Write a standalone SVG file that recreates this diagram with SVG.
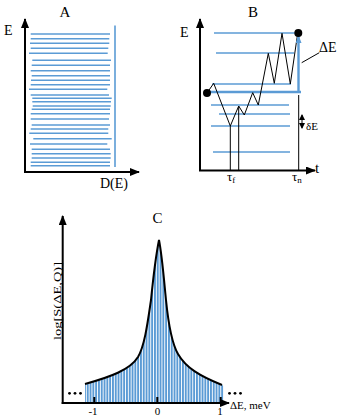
<svg xmlns="http://www.w3.org/2000/svg" width="342" height="416" viewBox="0 0 342 416">
<defs>
<marker id="ah" markerUnits="userSpaceOnUse" markerWidth="10" markerHeight="8" refX="9" refY="4" orient="auto"><path d="M0,0 L10,4 L0,8 Z" fill="#000"/></marker>
<marker id="ahs" markerUnits="userSpaceOnUse" markerWidth="6" markerHeight="6" refX="5" refY="3" orient="auto-start-reverse"><path d="M0,0 L6,3 L0,6 Z" fill="#000"/></marker>
<marker id="ahb" markerUnits="userSpaceOnUse" markerWidth="8" markerHeight="6" refX="7" refY="3" orient="auto"><path d="M0,0 L8,3 L0,6 Z" fill="#5b9bd5"/></marker>
<pattern id="stripes" patternUnits="userSpaceOnUse" width="2.8" height="10"><rect x="0" y="0" width="2.8" height="10" fill="#fff"/><rect x="0" y="0" width="1.9" height="10" fill="#5b9bd5"/></pattern>
</defs>
<style>
.ax{stroke:#000;stroke-width:2;fill:none}
.lv{stroke:#5b9bd5;stroke-width:1.6;fill:none}
.lvb{stroke:#5b9bd5;stroke-width:1.4;fill:none}
.thin{stroke:#000;stroke-width:1;fill:none}
.t{font-family:"Liberation Serif","Times New Roman",serif;fill:#000}
</style>

<g id="panelA">
<text class="t" x="65" y="17" font-size="15" text-anchor="middle">A</text>
<text class="t" x="4" y="35" font-size="14">E</text>
<text class="t" x="100" y="188" font-size="14">D(E)</text>
<g id="levelsA" class="lv">
<line x1="30.7" y1="34" x2="110" y2="34"/>
<line x1="30.7" y1="38.7" x2="109.3" y2="38.7"/>
<line x1="30" y1="43.3" x2="109.3" y2="43.3"/>
<line x1="30.7" y1="48.3" x2="108.3" y2="48.3"/>
<line x1="29" y1="53.3" x2="107.7" y2="53.3"/>
<line x1="32.3" y1="60.3" x2="111" y2="60.3"/>
<line x1="31.7" y1="65.3" x2="110" y2="65.3"/>
<line x1="30.7" y1="70.7" x2="110" y2="70.7"/>
<line x1="31.7" y1="75.7" x2="110" y2="75.7"/>
<line x1="31" y1="80.3" x2="110" y2="80.3"/>
<line x1="30.7" y1="84.7" x2="110" y2="84.7"/>
<line x1="29" y1="89.3" x2="107.3" y2="89.3"/>
<line x1="30.7" y1="95" x2="109" y2="95"/>
<line x1="32.3" y1="98.3" x2="111.7" y2="98.3"/>
<line x1="32.3" y1="101.7" x2="111" y2="101.7"/>
<line x1="32.7" y1="106" x2="110.7" y2="106"/>
<line x1="31.7" y1="109.3" x2="110" y2="109.3"/>
<line x1="30.7" y1="113.7" x2="110" y2="113.7"/>
<line x1="30.7" y1="119" x2="109" y2="119"/>
<line x1="31.7" y1="125" x2="110" y2="125"/>
<line x1="30.7" y1="129" x2="108.3" y2="129"/>
<line x1="29.3" y1="133.3" x2="108.3" y2="133.3"/>
<line x1="33.3" y1="138.7" x2="111.7" y2="138.7"/>
<line x1="30" y1="144" x2="107.3" y2="144"/>
<line x1="31.7" y1="149.3" x2="110" y2="149.3"/>
<line x1="31.7" y1="153.7" x2="110.7" y2="153.7"/>
<line x1="31.7" y1="158" x2="110.7" y2="158"/>
<line x1="30.7" y1="162.3" x2="110" y2="162.3"/>
<line x1="30.7" y1="165.7" x2="110" y2="165.7"/>
<line x1="115" y1="25.5" x2="115" y2="167"/>
</g>
<g id="axesA">
<line class="ax" x1="25" y1="172" x2="25" y2="19" marker-end="url(#ah)"/>
<line class="ax" x1="24" y1="172" x2="139" y2="172" marker-end="url(#ah)"/>
</g>
</g>

<g id="panelB">
<text class="t" x="253" y="17" font-size="15" text-anchor="middle">B</text>
<text class="t" x="180" y="37" font-size="14">E</text>
<text class="t" x="315" y="173" font-size="15">t</text>
<text class="t" x="319" y="52" font-size="14">ΔE</text>
<text class="t" x="306" y="130" font-size="11">δE</text>
<text class="t" x="227" y="181" font-size="13">τ<tspan font-size="9" dy="2">f</tspan></text>
<text class="t" x="292" y="181" font-size="13">τ<tspan font-size="9" dy="2">n</tspan></text>
<g id="levelsB" class="lvb">
<line x1="214" y1="33" x2="298" y2="33"/>
<line x1="216" y1="53" x2="294" y2="53"/>
<line x1="212" y1="84" x2="291" y2="84"/>
<line x1="206" y1="92" x2="301" y2="92" stroke-width="2.4"/>
<line x1="211" y1="105" x2="289" y2="105"/>
<line x1="219" y1="114" x2="290" y2="114"/>
<line x1="211" y1="126" x2="290" y2="126"/>
<line x1="213" y1="152" x2="290" y2="152"/>
</g>
<g id="connectorsB">
<polyline class="thin" points="207,93 213.7,83.3 230.3,126 238.7,106 244.3,115 252.7,92.7 258.3,105 268.3,53.3 274.3,83.3 282,33.3 290.3,84 297.7,33.3"/>
<line class="thin" x1="230.3" y1="126" x2="230.3" y2="170"/>
<line class="thin" x1="238.7" y1="106" x2="238.7" y2="170"/>
<line class="thin" x1="298.7" y1="95" x2="298.7" y2="170"/>
<line class="thin" x1="301.7" y1="62.7" x2="319.3" y2="52.7"/>
<line class="thin" x1="302" y1="115" x2="302" y2="128" marker-start="url(#ahs)" marker-end="url(#ahs)"/>
<line x1="298.5" y1="92" x2="298.5" y2="36" stroke="#5b9bd5" stroke-width="2.4" marker-end="url(#ahb)"/>
</g>
<circle cx="207" cy="93" r="4" fill="#000"/>
<circle cx="298.3" cy="33" r="4" fill="#000"/>
<g id="axesB">
<line class="ax" x1="200" y1="171" x2="200" y2="19" marker-end="url(#ah)"/>
<line class="ax" x1="199" y1="170.5" x2="315" y2="170.5" marker-end="url(#ah)"/>
</g>
</g>

<g id="panelC">
<text class="t" x="157.5" y="223" font-size="15" text-anchor="middle">C</text>
<text class="t" transform="translate(61,301) rotate(-90)" font-size="11" text-anchor="middle" textLength="78" lengthAdjust="spacingAndGlyphs">log[S(ΔE,Q)]</text>
<path d="M85,384 C110,377 130,370 138,357 C145,345 148,320 151,300 C153,280 156,255 159,240 C162,255 164,280 166,300 C168,320 171,342 178,354 C186,368 200,376 222,385 L224,386 L224,402 L85,402 Z" fill="url(#stripes)"/>
<path d="M85,384 C110,377 130,370 138,357 C145,345 148,320 151,300 C153,280 156,255 159,240 C162,255 164,280 166,300 C168,320 171,342 178,354 C186,368 200,376 222,385" fill="none" stroke="#000" stroke-width="2"/>
<g id="axesC">
<line class="ax" x1="62.7" y1="404" x2="62.7" y2="216" marker-end="url(#ah)"/>
<line class="ax" x1="61.7" y1="403" x2="229" y2="403" marker-end="url(#ah)"/>
<line x1="94.3" y1="397" x2="94.3" y2="403" stroke="#000" stroke-width="2"/>
<line x1="157.3" y1="397" x2="157.3" y2="403" stroke="#000" stroke-width="2"/>
<line x1="220.7" y1="397" x2="220.7" y2="403" stroke="#000" stroke-width="2"/>
</g>
<text class="t" x="93" y="415" font-size="11" text-anchor="middle">-1</text>
<text class="t" x="157.5" y="415" font-size="11" text-anchor="middle">0</text>
<text class="t" x="220" y="415" font-size="11" text-anchor="middle">1</text>
<text class="t" x="230" y="409" font-size="11">ΔE, meV</text>
<g id="dots" fill="#000">
<circle cx="69.5" cy="393.3" r="1.4"/><circle cx="75" cy="393.3" r="1.4"/><circle cx="80.5" cy="393.3" r="1.4"/>
<circle cx="229.5" cy="393.3" r="1.4"/><circle cx="235" cy="393.3" r="1.4"/><circle cx="240.5" cy="393.3" r="1.4"/>
</g>
</g>
</svg>
